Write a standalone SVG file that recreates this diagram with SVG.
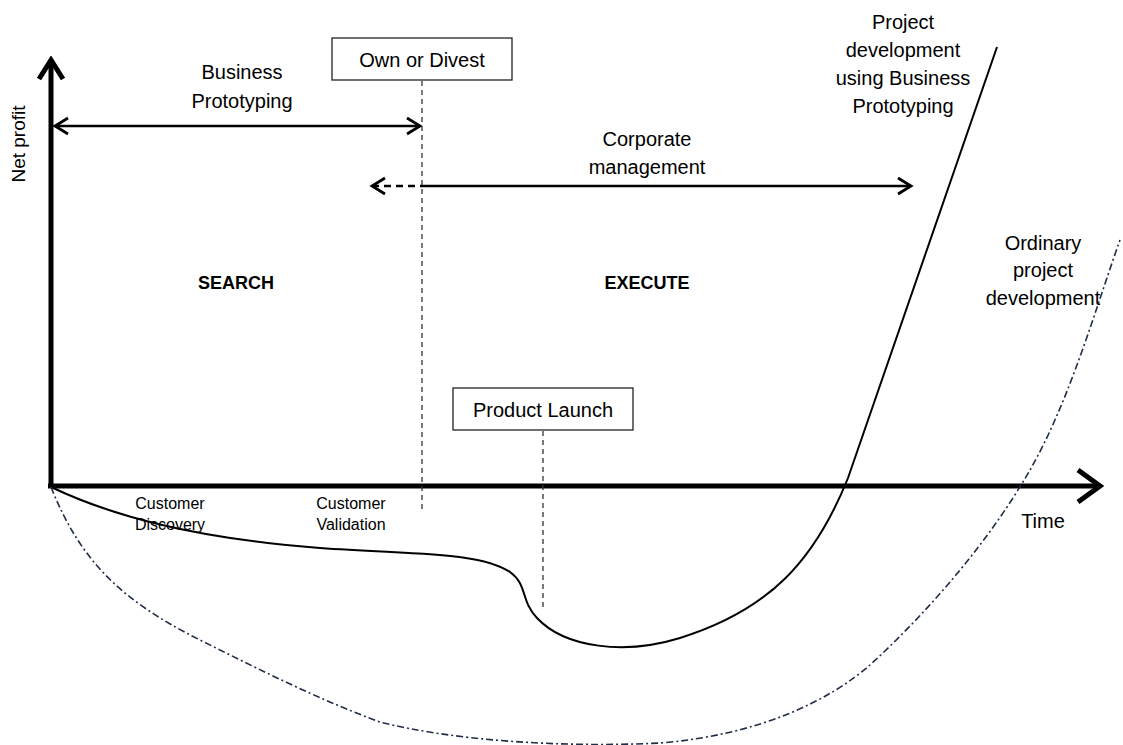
<svg xmlns="http://www.w3.org/2000/svg" width="1123" height="745" viewBox="0 0 1123 745">
<style>
text{font-family:"Liberation Sans",Arial,sans-serif;fill:#000;}
.lbl{font-size:20px;text-anchor:middle;}
.sm{font-size:16px;text-anchor:middle;}
.bold{font-size:18px;font-weight:bold;text-anchor:middle;}
.box{fill:#fff;stroke:#222;stroke-width:1.3;}
.dash{fill:none;stroke:#333;stroke-width:1.3;stroke-dasharray:5 4;}
.axis{fill:none;stroke:#000;stroke-width:5;}
.arr{fill:none;stroke:#000;stroke-width:2.5;}
.curve{fill:none;stroke:#000;stroke-width:2;}
.dd{fill:none;stroke:#1f2d45;stroke-width:1.6;stroke-dasharray:7 3 2 3;}
</style>
<defs>
<marker id="axhead" markerUnits="userSpaceOnUse" viewBox="-26 -20 30 40" refX="0" refY="0" markerWidth="30" markerHeight="40" orient="auto">
<path d="M-22,-16 L0,0 L-22,16" fill="none" stroke="#000" stroke-width="5"/>
</marker>
<marker id="ayhead" markerUnits="userSpaceOnUse" viewBox="-24 -16 28 32" refX="0" refY="0" markerWidth="28" markerHeight="32" orient="auto">
<path d="M-19,-12 L0,0 L-19,12" fill="none" stroke="#000" stroke-width="5"/>
</marker>
<marker id="head" markerUnits="userSpaceOnUse" viewBox="-16 -10 19 20" refX="0" refY="0" markerWidth="19" markerHeight="20" orient="auto-start-reverse">
<path d="M-13,-8 L0,0 L-13,8" fill="none" stroke="#000" stroke-width="2.8"/>
</marker>
</defs>

<g id="connectors">
<path class="axis" d="M51,488 L51,60" marker-end="url(#ayhead)"/>
<path class="axis" d="M48,486 L1100,486" marker-end="url(#axhead)"/>
<path class="arr" d="M55,126 L420,126" marker-start="url(#head)" marker-end="url(#head)"/>
<path class="arr" d="M422,186 L911,186" marker-end="url(#head)"/>
<path class="arr" d="M372,186 L422,186" stroke-dasharray="7 5" marker-start="url(#head)"/>
<path class="dash" d="M422,81 L422,513"/>
<path class="dash" d="M543,431 L543,610"/>
<path id="bp-curve" class="curve" d="M51,487 C110,515 190,538 320,548 C420,555 480,552 510,572 C528,585 520,600 537,618 C565,648 625,655 680,638 C770,610 815,560 848,478 L997,47"/>
<path id="ord-curve" class="dd" d="M51,487 C80,560 120,600 200,640 C260,670 320,700 380,722 C450,740 560,748 660,743 C760,735 830,700 870,665 C930,610 990,540 1030,470 C1070,400 1095,310 1120,240"/>
</g>

<g id="net-profit"><text transform="translate(25,144) rotate(-90)" style="font-size:19px;text-anchor:middle">Net profit</text></g>
<g id="business-prototyping"><text class="lbl" x="242" y="79">Business</text><text class="lbl" x="242" y="108">Prototyping</text></g>
<g id="own-or-divest"><rect class="box" x="332" y="38" width="180" height="42"/><text class="lbl" x="422" y="67">Own or Divest</text></g>
<g id="corporate-management"><text class="lbl" x="647" y="146">Corporate</text><text class="lbl" x="647" y="174">management</text></g>
<g id="search"><text class="bold" x="236" y="289">SEARCH</text></g>
<g id="execute"><text class="bold" x="647" y="289">EXECUTE</text></g>
<g id="product-launch"><rect class="box" x="453" y="388" width="180" height="42"/><text class="lbl" x="543" y="417">Product  Launch</text></g>
<g id="customer-discovery"><text class="sm" x="170" y="509">Customer</text><text class="sm" x="170" y="530">Discovery</text></g>
<g id="customer-validation"><text class="sm" x="351" y="509">Customer</text><text class="sm" x="351" y="530">Validation</text></g>
<g id="time"><text class="lbl" x="1043" y="528">Time</text></g>
<g id="project-bp"><text class="lbl" x="903" y="29">Project</text><text class="lbl" x="903" y="57">development</text><text class="lbl" x="903" y="85">using Business</text><text class="lbl" x="903" y="113">Prototyping</text></g>
<g id="ordinary"><text class="lbl" x="1043" y="250">Ordinary</text><text class="lbl" x="1043" y="277">project</text><text class="lbl" x="1043" y="305">development</text></g>
</svg>
